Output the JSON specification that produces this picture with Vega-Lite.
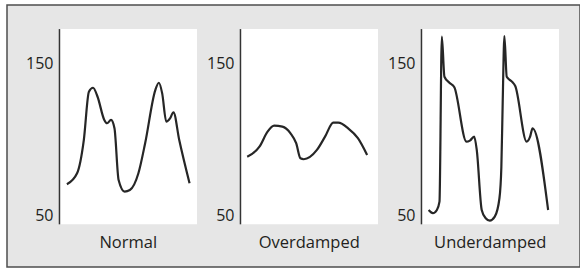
{
  "$schema": "https://vega.github.io/schema/vega-lite/v6.json",
  "width": 580,
  "height": 276,
  "autosize": {"type": "fit", "contains": "padding"},
  "padding": {"left": 7, "top": 5, "right": 0, "bottom": 9},
  "background": "white",
  "config": {
    "view": {"fill": "#e6e6e6", "stroke": "#4d4d4d", "strokeWidth": 1.5},
    "font": "Open Sans"
  },
  "datasets": {
    "panels": [{"panel": "Normal"}, {"panel": "Overdamped"}, {"panel": "Underdamped"}],
    "ticks": [
      {"panel": "Normal", "value": 50}, {"panel": "Normal", "value": 150},
      {"panel": "Overdamped", "value": 50}, {"panel": "Overdamped", "value": 150},
      {"panel": "Underdamped", "value": 50}, {"panel": "Underdamped", "value": 150}
    ],
    "waves": [
      {"panel": "Normal", "t": 0.054, "value": 70.8},
      {"panel": "Normal", "t": 0.128, "value": 78},
      {"panel": "Normal", "t": 0.177, "value": 99.8},
      {"panel": "Normal", "t": 0.214, "value": 131.5},
      {"panel": "Normal", "t": 0.244, "value": 134.1},
      {"panel": "Normal", "t": 0.277, "value": 128.2},
      {"panel": "Normal", "t": 0.326, "value": 113},
      {"panel": "Normal", "t": 0.346, "value": 110.8},
      {"panel": "Normal", "t": 0.375, "value": 113},
      {"panel": "Normal", "t": 0.4, "value": 107.5},
      {"panel": "Normal", "t": 0.43, "value": 73.6},
      {"panel": "Normal", "t": 0.474, "value": 66},
      {"panel": "Normal", "t": 0.512, "value": 67},
      {"panel": "Normal", "t": 0.574, "value": 78},
      {"panel": "Normal", "t": 0.623, "value": 97.7},
      {"panel": "Normal", "t": 0.697, "value": 132.6},
      {"panel": "Normal", "t": 0.723, "value": 137.4},
      {"panel": "Normal", "t": 0.747, "value": 130.4},
      {"panel": "Normal", "t": 0.777, "value": 111.8},
      {"panel": "Normal", "t": 0.804, "value": 114},
      {"panel": "Normal", "t": 0.829, "value": 118},
      {"panel": "Normal", "t": 0.871, "value": 99.8},
      {"panel": "Normal", "t": 0.946, "value": 71.4},
      {"panel": "Overdamped", "t": 0.049, "value": 88.9},
      {"panel": "Overdamped", "t": 0.138, "value": 95.4},
      {"panel": "Overdamped", "t": 0.197, "value": 105.3},
      {"panel": "Overdamped", "t": 0.245, "value": 109.2},
      {"panel": "Overdamped", "t": 0.305, "value": 108.6},
      {"panel": "Overdamped", "t": 0.364, "value": 104.2},
      {"panel": "Overdamped", "t": 0.405, "value": 97.7},
      {"panel": "Overdamped", "t": 0.436, "value": 87.8},
      {"panel": "Overdamped", "t": 0.46, "value": 87.2},
      {"panel": "Overdamped", "t": 0.556, "value": 93.3},
      {"panel": "Overdamped", "t": 0.615, "value": 102},
      {"panel": "Overdamped", "t": 0.675, "value": 111.2},
      {"panel": "Overdamped", "t": 0.711, "value": 111.2},
      {"panel": "Overdamped", "t": 0.783, "value": 107.5},
      {"panel": "Overdamped", "t": 0.854, "value": 101},
      {"panel": "Overdamped", "t": 0.921, "value": 90},
      {"panel": "Underdamped", "t": 0.052, "value": 53.9},
      {"panel": "Underdamped", "t": 0.083, "value": 51.8},
      {"panel": "Underdamped", "t": 0.112, "value": 53.9},
      {"panel": "Underdamped", "t": 0.131, "value": 59.4},
      {"panel": "Underdamped", "t": 0.148, "value": 167.6},
      {"panel": "Underdamped", "t": 0.167, "value": 141.3},
      {"panel": "Underdamped", "t": 0.203, "value": 137.4},
      {"panel": "Underdamped", "t": 0.239, "value": 134.4},
      {"panel": "Underdamped", "t": 0.327, "value": 98.7},
      {"panel": "Underdamped", "t": 0.352, "value": 99.4},
      {"panel": "Underdamped", "t": 0.383, "value": 102},
      {"panel": "Underdamped", "t": 0.402, "value": 93.3},
      {"panel": "Underdamped", "t": 0.438, "value": 53.9},
      {"panel": "Underdamped", "t": 0.467, "value": 48.5},
      {"panel": "Underdamped", "t": 0.497, "value": 46.9},
      {"panel": "Underdamped", "t": 0.533, "value": 49.5},
      {"panel": "Underdamped", "t": 0.567, "value": 61.6},
      {"panel": "Underdamped", "t": 0.581, "value": 82.3},
      {"panel": "Underdamped", "t": 0.591, "value": 126},
      {"panel": "Underdamped", "t": 0.603, "value": 168},
      {"panel": "Underdamped", "t": 0.62, "value": 141.3},
      {"panel": "Underdamped", "t": 0.658, "value": 138.1},
      {"panel": "Underdamped", "t": 0.682, "value": 135.2},
      {"panel": "Underdamped", "t": 0.765, "value": 98.7},
      {"panel": "Underdamped", "t": 0.79, "value": 102},
      {"panel": "Underdamped", "t": 0.808, "value": 107.5},
      {"panel": "Underdamped", "t": 0.921, "value": 53.9}
    ]
  },
  "layer": [
    {
      "data": {"name": "panels"},
      "mark": {"type": "rect", "fill": "white"},
      "encoding": {
        "x": {"field": "panel", "type": "nominal", "bandPosition": 0, "scale": {"paddingInner": 0.2403, "paddingOuter": 0.203, "align": 0.714}, "axis": null},
        "x2": {"field": "panel", "bandPosition": 1},
        "y": {"datum": 44.5, "type": "quantitative", "scale": {"domain": [16.5, 188.4], "nice": false, "zero": false}, "axis": null},
        "y2": {"datum": 172.6}
      }
    },
    {
      "data": {"name": "panels"},
      "mark": {"type": "rule", "color": "#333333", "strokeWidth": 1.5},
      "encoding": {
        "x": {"field": "panel", "type": "nominal", "bandPosition": 0, "axis": null},
        "y": {"datum": 44.5, "type": "quantitative", "axis": null},
        "y2": {"datum": 172.6}
      }
    },
    {
      "data": {"name": "ticks"},
      "mark": {"type": "text", "align": "right", "baseline": "middle", "dx": -6, "fontSize": 16, "color": "#231f20"},
      "encoding": {
        "x": {"field": "panel", "type": "nominal", "bandPosition": 0, "axis": null},
        "y": {"field": "value", "type": "quantitative", "axis": null},
        "text": {"field": "value", "type": "quantitative"}
      }
    },
    {
      "data": {"name": "panels"},
      "mark": {"type": "text", "align": "center", "baseline": "middle", "fontSize": 16.5, "color": "#231f20"},
      "encoding": {
        "x": {"field": "panel", "type": "nominal", "bandPosition": 0.5, "axis": null},
        "y": {"datum": 32.3, "type": "quantitative", "axis": null},
        "text": {"field": "panel", "type": "nominal"}
      }
    },
    {
      "data": {"name": "waves"},
      "mark": {"type": "line", "interpolate": "monotone", "color": "#262626", "strokeWidth": 2.2},
      "encoding": {
        "x": {"field": "panel", "type": "nominal", "axis": null},
        "xOffset": {"field": "t", "type": "quantitative", "scale": {"domain": [0, 1]}},
        "y": {"field": "value", "type": "quantitative", "axis": null},
        "detail": {"field": "panel"},
        "order": {"field": "t", "type": "quantitative"}
      }
    }
  ]
}
